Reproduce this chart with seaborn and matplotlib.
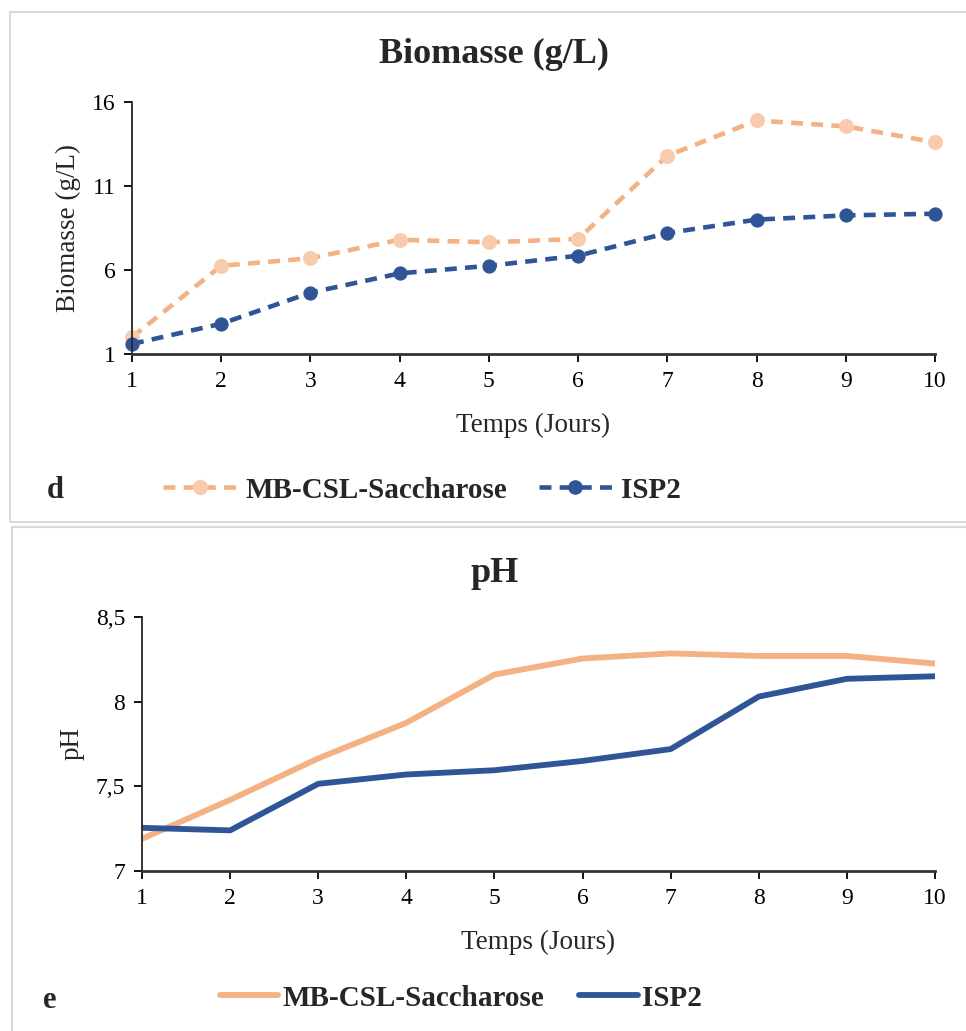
import matplotlib
matplotlib.use('Agg')
import matplotlib.pyplot as plt
from matplotlib.patches import Rectangle
from matplotlib.lines import Line2D
import seaborn as sns

# data
days = [1, 2, 3, 4, 5, 6, 7, 8, 9, 10]
series_names = ['MB-CSL-Saccharose', 'ISP2']

biomasse_mb = [2.0, 6.25, 6.7, 7.8, 7.65, 7.85, 12.8, 14.9, 14.55, 13.6]
biomasse_isp2 = [1.6, 2.8, 4.65, 5.8, 6.25, 6.85, 8.2, 9.0, 9.25, 9.35]

ph_mb = [7.19, 7.42, 7.665, 7.875, 8.16, 8.255, 8.285, 8.27, 8.27, 8.225]
ph_isp2 = [7.255, 7.24, 7.515, 7.57, 7.595, 7.65, 7.72, 8.03, 8.135, 8.15]

biomasse_ticks = [1, 6, 11, 16]
biomasse_ticklabels = ['1', '6', '11', '16']
ph_ticks = [7, 7.5, 8, 8.5]
ph_ticklabels = ['7', '7,5', '8', '8,5']

ORANGE = '#F4B183'
ORANGE_MARK = '#F8CBAD'
BLUE = '#2F5597'

W, H = 966, 1031

sns.set_style('ticks')
plt.rcParams['font.family'] = ['Liberation Serif', 'DejaVu Serif']


def fx(px):
    return px / W


def fy(py):
    return 1 - py / H


fig = plt.figure(figsize=(W / 100, H / 100), dpi=100)

# light grey frames around each panel
fig.add_artist(Rectangle((fx(10), fy(522)), 1.0, fy(12) - fy(522),
                         transform=fig.transFigure, fill=False,
                         edgecolor='#d9d9d9', lw=1.5))
fig.add_artist(Rectangle((fx(12), -0.05), 1.0, fy(527) + 0.05,
                         transform=fig.transFigure, fill=False,
                         edgecolor='#d9d9d9', lw=1.5))


def style_axes(ax, ticks, ticklabels, ylim, ylabel):
    ax.set_xlim(1, 10)
    ax.set_ylim(*ylim)
    ax.set_xticks(days)
    ax.set_xticklabels([str(d) for d in days], fontsize=17)
    ax.set_yticks(ticks)
    ax.set_yticklabels(ticklabels, fontsize=17)
    ax.set_xlabel('Temps (Jours)', fontsize=19.5, labelpad=15)
    ax.set_ylabel(ylabel, fontsize=19.5, labelpad=8)
    sns.despine(ax=ax)
    ax.spines['left'].set_linewidth(1.3)
    ax.spines['bottom'].set_linewidth(2.0)
    ax.spines['bottom'].set_color('#333333')
    ax.tick_params(axis='both', direction='out', length=6, width=1.3,
                   pad=6, colors='black')


# ---- panel d : biomass ----
ax1 = fig.add_axes([fx(132), fy(354), fx(935) - fx(132), fy(102) - fy(354)])
dash = (0, (2.6, 1.8))
sns.lineplot(x=days, y=biomasse_mb, ax=ax1, color=ORANGE, lw=3.3,
             linestyle=dash, marker='o', markersize=10,
             markerfacecolor=ORANGE_MARK, markeredgecolor=ORANGE_MARK,
             legend=False, clip_on=False)
sns.lineplot(x=days, y=biomasse_isp2, ax=ax1, color=BLUE, lw=3.3,
             linestyle=dash, marker='o', markersize=9.5,
             markerfacecolor=BLUE, markeredgecolor=BLUE,
             legend=False, clip_on=False)
style_axes(ax1, biomasse_ticks, biomasse_ticklabels, (1, 16), 'Biomasse (g/L)')
fig.text(fx(494), fy(54), 'Biomasse (g/L)', fontsize=26, fontweight='bold',
         ha='center', va='center')

h1 = [Line2D([], [], color=ORANGE, lw=3.3, linestyle=dash, marker='o',
             markersize=10, markerfacecolor=ORANGE_MARK, markeredgecolor=ORANGE_MARK),
      Line2D([], [], color=BLUE, lw=3.3, linestyle=dash, marker='o',
             markersize=9.5, markerfacecolor=BLUE, markeredgecolor=BLUE)]
fig.legend(h1, series_names, loc='center', bbox_to_anchor=(fx(422), fy(490)),
           ncol=2, frameon=False, handlelength=2.5, handletextpad=0.3,
           columnspacing=1.1, prop={'size': 21, 'weight': 'bold'})
fig.text(fx(55), fy(491), 'd', fontsize=22, fontweight='bold',
         ha='center', va='center')

# ---- panel e : pH ----
ax2 = fig.add_axes([fx(142), fy(871), fx(935) - fx(142), fy(617) - fy(871)])
sns.lineplot(x=days, y=ph_mb, ax=ax2, color=ORANGE, lw=4.2, legend=False)
sns.lineplot(x=days, y=ph_isp2, ax=ax2, color=BLUE, lw=4.2, legend=False)
style_axes(ax2, ph_ticks, ph_ticklabels, (7, 8.5), 'pH')
fig.text(fx(495), fy(573), 'pH', fontsize=26, fontweight='bold',
         ha='center', va='center')

h2 = [Line2D([], [], color=ORANGE, lw=4.2, solid_capstyle='round'),
      Line2D([], [], color=BLUE, lw=4.2, solid_capstyle='round')]
fig.legend(h2, series_names, loc='center', bbox_to_anchor=(fx(461), fy(998)),
           ncol=2, frameon=False, handlelength=2.0, handletextpad=0.15,
           columnspacing=1.2, prop={'size': 21, 'weight': 'bold'})
fig.text(fx(50), fy(1000), 'e', fontsize=22, fontweight='bold',
         ha='center', va='center')

fig.savefig('out.png', dpi=100)
